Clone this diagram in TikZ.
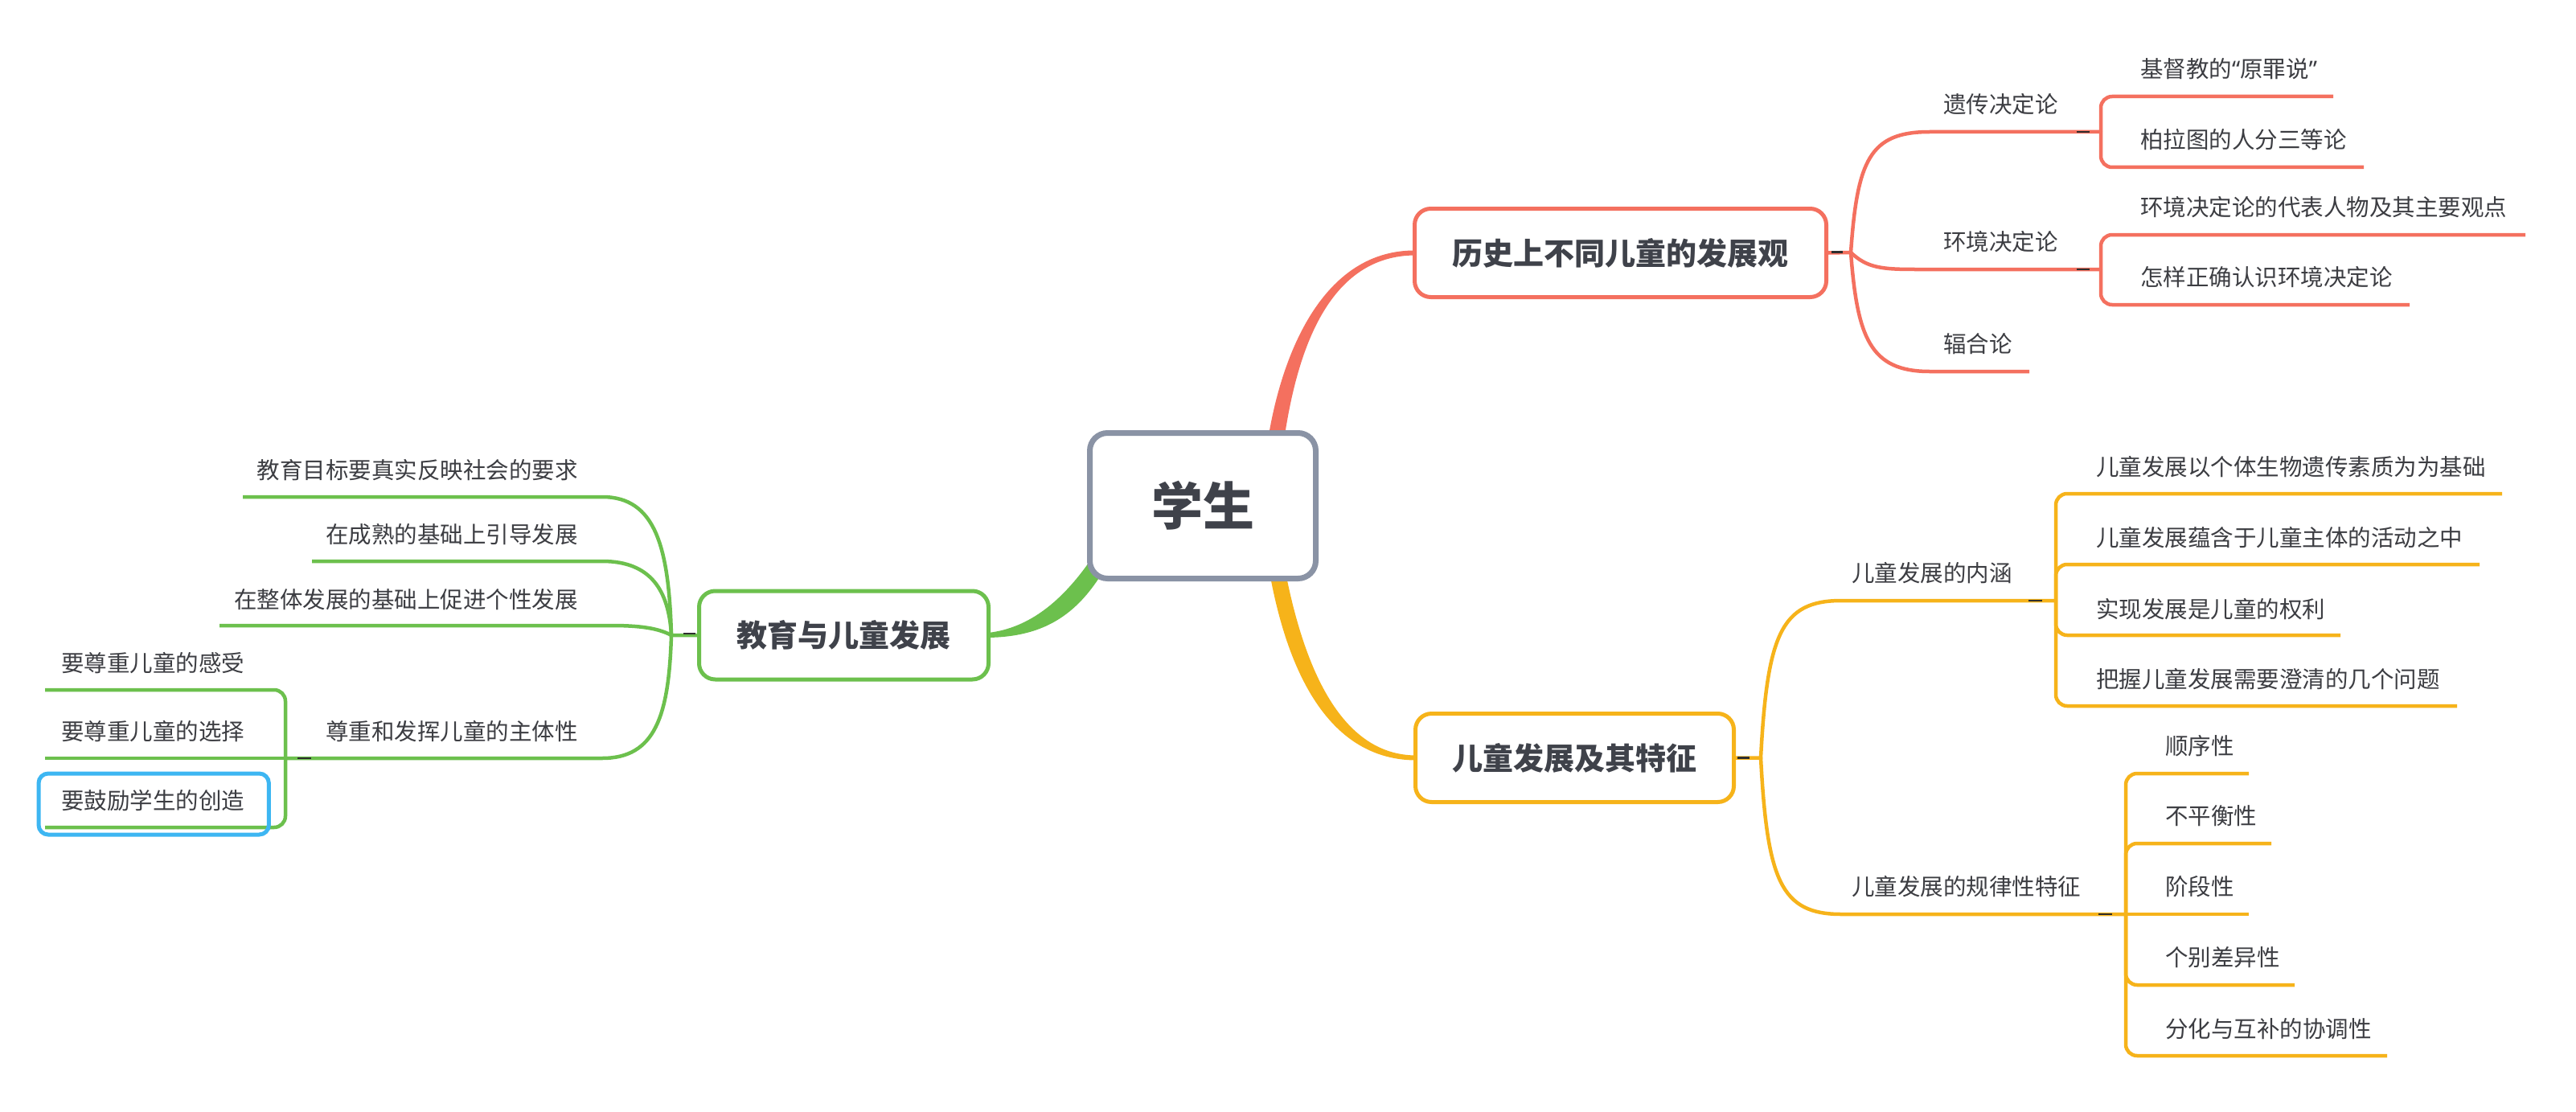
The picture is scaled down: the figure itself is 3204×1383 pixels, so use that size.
\documentclass[tikz,border=0pt]{standalone}
\usepackage{fontspec}
\usetikzlibrary{calc,backgrounds}
\newfontfamily\cjk{Noto Sans CJK SC}
\newfontfamily\latq{Noto Sans}
\definecolor{redc}{HTML}{F4705F}
\definecolor{yelc}{HTML}{F6B31A}
\definecolor{grnc}{HTML}{6CC04D}
\definecolor{grayc}{HTML}{8A93A5}
\definecolor{bluec}{HTML}{3DB6F2}
\definecolor{txt}{HTML}{3F424A}
\definecolor{subtxt}{HTML}{3C3D42}
\definecolor{tickc}{HTML}{2E2E2E}
\tikzset{
  sub/.style={inner sep=0pt, text=subtxt, font=\cjk\fontsize{28.5}{34}\selectfont},
  mainbox/.style={draw, line width=5pt, rounded corners=20pt, fill=white, text=txt,
    font=\cjk\bfseries\fontsize{38}{44}\selectfont, minimum height=110pt},
  rl/.style={draw=redc, line width=4.5pt},
  yl/.style={draw=yelc, line width=4.5pt},
  gl/.style={draw=grnc, line width=4.5pt},
  brk/.style={rounded corners=14pt},
  tick/.style={draw=tickc, line width=2.5pt},
  bluebox/.style={draw=bluec, line width=5pt, rounded corners=12pt}
}
\begin{document}
\begin{tikzpicture}[x=1pt,y=-1pt]
\useasboundingbox (0,0) rectangle (3204,1383);

% ---------- main nodes ----------
\node[draw=grayc, line width=7pt, rounded corners=22pt, fill=white, minimum width=281pt,
  minimum height=181pt, text=txt, font=\cjk\bfseries\fontsize{64}{70}\selectfont] (root) at (1496,629) {学生};
\node[mainbox, draw=redc, minimum width=512pt] (hr) at (2015.5,314.5) {历史上不同儿童的发展观};
\node[mainbox, draw=yelc, minimum width=396pt] (yel) at (1958.5,942.5) {儿童发展及其特征};
\node[mainbox, draw=grnc, minimum width=360pt] (grn) at (1049.5,790) {教育与儿童发展};

% ---------- junctions ----------
\coordinate (jr) at (2302,314);
\coordinate (jy) at (2190,942.5);
\coordinate (jg) at (835,790);

% ---------- red subtree ----------
\node[sub, anchor=west] (yc) at (2417,130) {遗传决定论};
\node[sub, anchor=west] (hj) at (2417,301) {环境决定论};
\node[sub, anchor=west] (fh) at (2417,428) {辐合论};
\coordinate (ycj) at (2613,164);
\coordinate (hjj) at (2613,335);
\coordinate (fhe) at (2524,462);
\node[sub, anchor=west] (jd) at (2662,86) {基督教的{\latq “}原罪说{\latq ”}};
\node[sub, anchor=west] (blt) at (2662,174) {柏拉图的人分三等论};
\node[sub, anchor=west] (db) at (2662,258) {环境决定论的代表人物及其主要观点};
\node[sub, anchor=west] (zy) at (2662,345) {怎样正确认识环境决定论};
\coordinate (jde) at (2902,120);
\coordinate (blte) at (2940,208);
\coordinate (dbe) at (3141,292);
\coordinate (zye) at (2997,379);

% ---------- yellow subtree ----------
\node[sub, anchor=west] (nh) at (2303,713) {儿童发展的内涵};
\node[sub, anchor=west] (gl) at (2303,1103) {儿童发展的规律性特征};
\coordinate (nhj) at (2557,747);
\coordinate (glj) at (2644,1137);
\node[sub, anchor=west] (n1) at (2607,581) {儿童发展以个体生物遗传素质为为基础};
\node[sub, anchor=west] (n2) at (2607,669) {儿童发展蕴含于儿童主体的活动之中};
\node[sub, anchor=west] (n3) at (2607,758) {实现发展是儿童的权利};
\node[sub, anchor=west] (n4) at (2607,845) {把握儿童发展需要澄清的几个问题};
\coordinate (n1e) at (3112,614);
\coordinate (n2e) at (3084,702);
\coordinate (n3e) at (2911,790);
\coordinate (n4e) at (3056,878);
\node[sub, anchor=west] (l1) at (2693,928) {顺序性};
\node[sub, anchor=west] (l2) at (2693,1015) {不平衡性};
\node[sub, anchor=west] (l3) at (2693,1103) {阶段性};
\node[sub, anchor=west] (l4) at (2693,1191) {个别差异性};
\node[sub, anchor=west] (l5) at (2693,1280) {分化与互补的协调性};
\coordinate (l1e) at (2797,962);
\coordinate (l2e) at (2825,1049);
\coordinate (l3e) at (2797,1137);
\coordinate (l4e) at (2854,1225);
\coordinate (l5e) at (2969,1313);

% ---------- green subtree ----------
\node[sub, anchor=east] (g1) at (719,585) {教育目标要真实反映社会的要求};
\node[sub, anchor=east] (g2) at (719,665) {在成熟的基础上引导发展};
\node[sub, anchor=east] (g3) at (719,746) {在整体发展的基础上促进个性发展};
\node[sub, anchor=east] (g4) at (719,910) {尊重和发挥儿童的主体性};
\coordinate (g1e) at (302,618);
\coordinate (g2e) at (388,698);
\coordinate (g3e) at (273,778);
\coordinate (g4j) at (355,943);
\node[sub, anchor=west] (s1) at (76,825) {要尊重儿童的感受};
\node[sub, anchor=west] (s2) at (76,910) {要尊重儿童的选择};
\node[sub, anchor=west] (s3) at (76,996) {要鼓励学生的创造};
\coordinate (s1e) at (56,858);
\coordinate (s2e) at (56,943);
\coordinate (s3e) at (56,1029);

\begin{scope}[on background layer]
\fill[white] (0,0) rectangle (3204,1383);
% tapered main connectors
\fill[redc] ($(root.north)+(82,6)$) .. controls (1597,430) and (1650,311) .. ($(hr.west)+(3,-3)$)
  -- ($(hr.west)+(3,3)$) .. controls (1655,318) and (1615,430) .. ($(root.north)+(102,6)$) -- cycle;
\fill[yelc] ($(root.south)+(84,-6)$) .. controls (1605,850) and (1660,945) .. ($(yel.west)+(3,3)$)
  -- ($(yel.west)+(3,-3)$) .. controls (1672,939) and (1625,840) .. ($(root.south)+(104,-6)$) -- cycle;
\fill[grnc] (1354,700) .. controls (1322,745) and (1282,781) .. ($(grn.east)+(-3,-3)$)
  -- ($(grn.east)+(-3,3)$) .. controls (1292,792) and (1335,770) .. (1370,714) -- cycle;

% red branches
\draw[rl] (hr.east) -- (jr) .. controls (2310,200) and (2325,164) .. (2400,164) -- (ycj);
\draw[rl] (jr) .. controls (2322,333) and (2340,335) .. (2382,335) -- (hjj);
\draw[rl] (jr) .. controls (2310,420) and (2326,462) .. (2400,462) -- (fhe);
\draw[rl, brk] (ycj) |- (jde);
\draw[rl, brk] (ycj) |- (blte);
\draw[rl, brk] (hjj) |- (dbe);
\draw[rl, brk] (hjj) |- (zye);

% yellow branches
\draw[yl] (yel.east) -- (jy) .. controls (2198,790) and (2215,747) .. (2290,747) -- (nhj);
\draw[yl] (jy) .. controls (2198,1095) and (2215,1137) .. (2290,1137) -- (glj);
\draw[yl, brk] (nhj) |- (n1e);
\draw[yl, brk] (nhj) |- (n2e);
\draw[yl, brk] (nhj) |- (n3e);
\draw[yl, brk] (nhj) |- (n4e);
\draw[yl, brk] (glj) |- (l1e);
\draw[yl, brk] (glj) |- (l2e);
\draw[yl] (glj) -- (l3e);
\draw[yl, brk] (glj) |- (l4e);
\draw[yl, brk] (glj) |- (l5e);

% green branches
\draw[gl] (grn.west) -- (jg) .. controls (832,680) and (815,618) .. (749,618) -- (g1e);
\draw[gl] (jg) .. controls (832,735) and (810,698) .. (749,698) -- (g2e);
\draw[gl] (jg) .. controls (818,781) and (795,778) .. (760,778) -- (g3e);
\draw[gl] (jg) .. controls (832,890) and (815,943) .. (749,943) -- (g4j);
\draw[gl, brk] (g4j) |- (s1e);
\draw[gl] (g4j) -- (s2e);
\draw[gl, brk] (g4j) |- (s3e);
\end{scope}

% collapse ticks
\draw[tick] ($(hr.east)+(4,-1)$) -- ++(14,0);
\draw[tick] ($(ycj)+(-30,0)$) -- ++(16,0);
\draw[tick] ($(hjj)+(-30,0)$) -- ++(16,0);
\draw[tick] ($(yel.east)+(2,0)$) -- ++(15,0);
\draw[tick] ($(nhj)+(-34,0)$) -- ++(17,0);
\draw[tick] ($(glj)+(-34,0)$) -- ++(17,0);
\draw[tick] ($(grn.west)+(-17,-2)$) -- ++(15,0);
\draw[tick] ($(g4j)+(15,0)$) -- ++(17,0);

% highlight box
\draw[bluebox] ($(s3.west)+(-28,-34)$) rectangle ($(s3.east)+(30,42)$);
\end{tikzpicture}
\end{document}
